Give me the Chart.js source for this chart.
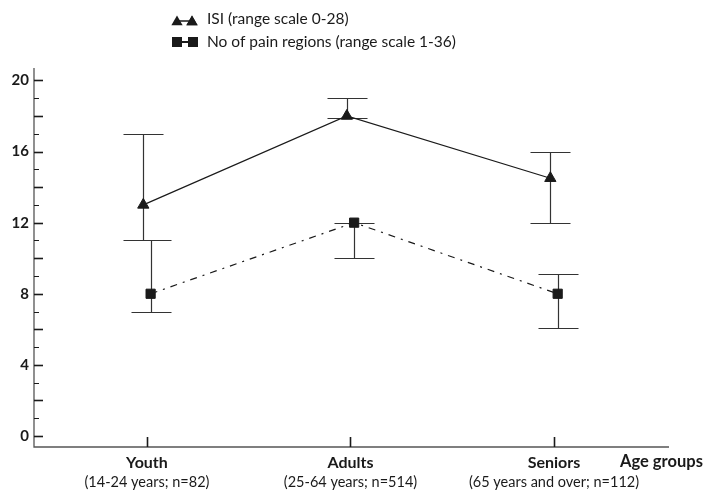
<!DOCTYPE html>
<html>
<head>
<meta charset="utf-8">
<script src="https://cdn.jsdelivr.net/npm/chart.js@4"></script>
<style>
  body { margin: 0; background: #fff; }
</style>
</head>
<body>
<canvas id="myChart" width="708" height="490"></canvas>
<script>
// data
var groups = ['Youth', 'Adults', 'Seniors'];
var groupNotes = ['(14-24 years; n=82)', '(25-64 years; n=514)', '(65 years and over; n=112)'];
var isiMean = [13, 18, 14.5];
var isiLow = [11, 17.9, 12];
var isiHigh = [17, 19, 16];
var painMean = [8, 12, 8];
var painLow = [7, 10, 6.1];
var painHigh = [11, 12, 9.1];
var yTicks = [0, 4, 8, 12, 16, 20];
var legendLabels = ['ISI (range scale 0-28)', 'No of pain regions (range scale 1-36)'];
var xTitle = 'Age groups';

var ink = '#1a1a1a';
var axisGrey = '#555';
var shift = 0.018;

function pts(vals, d) {
    return vals.map(function (v, i) { return { x: i + d, y: v }; });
}

// draws axes, error bars, labels and legend with the chart's own scales
var drawExtras = {
    id: 'drawExtras',
    beforeDatasetsDraw: function (chart) {
        var c = chart.ctx, xs = chart.scales.x, ys = chart.scales.y, a = chart.chartArea;
        c.save();
        c.strokeStyle = axisGrey;
        c.lineWidth = 1.3;
        // axes
        c.beginPath();
        c.moveTo(a.left, a.top);
        c.lineTo(a.left, a.bottom);
        c.lineTo(a.right, a.bottom);
        c.stroke();
        // y ticks, inside the plot
        c.strokeStyle = ink;
        for (var v = 0; v <= 20; v++) {
            var py = Math.round(ys.getPixelForValue(v)) + 0.5;
            c.lineWidth = v % 2 === 0 ? 1.6 : 1;
            c.beginPath();
            c.moveTo(a.left, py);
            c.lineTo(a.left + (v % 2 === 0 ? 9 : 5), py);
            c.stroke();
        }
        // x ticks
        c.lineWidth = 1.6;
        groups.forEach(function (g, i) {
            var px = Math.round(xs.getPixelForValue(i)) + 0.5;
            c.beginPath();
            c.moveTo(px, a.bottom);
            c.lineTo(px, a.bottom - 10);
            c.stroke();
        });
        // error bars
        c.strokeStyle = '#333';
        c.lineWidth = 1.2;
        function bars(low, high, d) {
            low.forEach(function (lo, i) {
                var px = Math.round(xs.getPixelForValue(i + d)) + 0.5;
                var y1 = Math.round(ys.getPixelForValue(lo)) + 0.5;
                var y2 = Math.round(ys.getPixelForValue(high[i])) + 0.5;
                c.beginPath();
                c.moveTo(px, y1); c.lineTo(px, y2);
                c.moveTo(px - 20, y1); c.lineTo(px + 20, y1);
                c.moveTo(px - 20, y2); c.lineTo(px + 20, y2);
                c.stroke();
            });
        }
        bars(isiLow, isiHigh, -shift);
        bars(painLow, painHigh, shift);
        c.restore();
    },
    afterDraw: function (chart) {
        var c = chart.ctx, xs = chart.scales.x, ys = chart.scales.y, a = chart.chartArea;
        c.save();
        c.fillStyle = ink;
        // y labels
        c.font = 'bold 15px Lato';
        c.textAlign = 'right';
        c.textBaseline = 'middle';
        yTicks.forEach(function (t) {
            c.fillText(String(t), a.left - 5, ys.getPixelForValue(t));
        });
        // x labels
        c.textAlign = 'center';
        groups.forEach(function (g, i) {
            var px = xs.getPixelForValue(i);
            c.font = 'bold 16px Lato';
            c.fillText(g, px, 463);
            c.font = '14.5px Lato';
            c.fillText(groupNotes[i], px, 482);
        });
        c.font = 'bold 16.5px Lato';
        c.textAlign = 'left';
        c.fillText(xTitle, 620, 462);
        // legend
        c.font = '15.5px Lato';
        c.strokeStyle = ink;
        c.lineWidth = 1.5;
        c.beginPath(); c.moveTo(176, 21); c.lineTo(193, 21); c.stroke();
        Chart.helpers.drawPoint(c, { pointStyle: 'triangle', radius: 6.5, rotation: 0 }, 177, 22);
        Chart.helpers.drawPoint(c, { pointStyle: 'triangle', radius: 6.5, rotation: 0 }, 192, 22);
        c.fill();
        c.fillRect(172, 37, 10, 10);
        c.fillRect(188, 37, 10, 10);
        c.fillRect(182, 41, 6, 2);
        c.fillText(legendLabels[0], 207, 19);
        c.fillText(legendLabels[1], 207, 42);
        c.restore();
    }
};

var ctx = document.getElementById('myChart').getContext('2d');
var chart = new Chart(ctx, {
    type: 'line',
    data: {
        datasets: [{
            label: legendLabels[0],
            data: pts(isiMean, -shift),
            borderColor: ink,
            borderWidth: 1.2,
            pointStyle: 'triangle',
            pointRadius: 6.5,
            pointBackgroundColor: ink,
            pointBorderColor: ink,
            pointBorderWidth: 1
        }, {
            label: legendLabels[1],
            data: pts(painMean, shift),
            borderColor: ink,
            borderWidth: 1.2,
            borderDash: [7, 6, 2, 6],
            pointStyle: 'rect',
            pointRadius: 6.5,
            pointBackgroundColor: ink,
            pointBorderColor: ink,
            pointBorderWidth: 1
        }]
    },
    options: {
        responsive: false,
        animation: false,
        layout: { padding: { left: 34, right: 39, top: 68, bottom: 43 } },
        plugins: { legend: { display: false }, tooltip: { enabled: false } },
        scales: {
            x: { type: 'linear', min: -0.555, max: 2.565, display: false },
            y: { type: 'linear', min: -0.62, max: 20.7, display: false }
        }
    },
    plugins: [drawExtras]
});
</script>
</body>
</html>
